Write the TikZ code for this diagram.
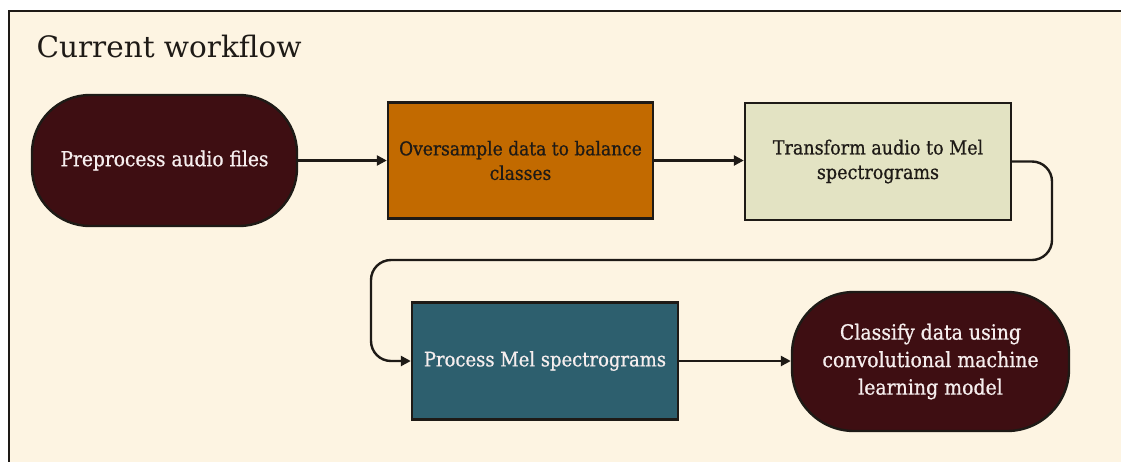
\documentclass[tikz,border=0pt]{standalone}
\usepackage{fontspec}
\setmainfont{DejaVu Serif}
\newfontfamily\boxfont[FakeBold=0.7]{DejaVu Serif Condensed}
\usetikzlibrary{arrows.meta}

\definecolor{paper}{HTML}{FDF4E2}
\definecolor{maroon}{HTML}{3E0E12}
\definecolor{amber}{HTML}{C26A00}
\definecolor{sage}{HTML}{E3E3C3}
\definecolor{teal}{HTML}{2D5F6E}
\definecolor{ink}{HTML}{1E1A16}
\definecolor{lighttext}{HTML}{F6EEEE}

\tikzset{
  box/.style={draw=ink, line width=2.4pt, align=center, inner sep=0pt,
    font=\boxfont\fontsize{19}{24.5}\selectfont},
  pill/.style={box, rounded corners=58pt, fill=maroon, text=lighttext},
  flow/.style={draw=ink, line width=2.4pt,
    -{Triangle[length=10pt,width=10pt]}},
}

\begin{document}
\begin{tikzpicture}[x=1pt,y=-1pt]
  \useasboundingbox (0,0) rectangle (1121,461);
  % panel
  \fill[paper] (9,11) rectangle (1125,465);
  \draw[ink, line width=2.2pt] (9,465) -- (9,11) -- (1125,11);

  \node[anchor=base west, font=\fontsize{29.5}{34}\selectfont, text=ink]
    (title) at (33,57) {Current workflow};

  % steps
  \node[pill, minimum width=265pt, minimum height=131pt,
        font=\boxfont\fontsize{20.7}{26}\selectfont]
    (pre) at (164.5,160.5) {Preprocess audio files};
  \node[box, fill=amber, text=ink, minimum width=265pt, minimum height=116pt]
    (over) at (520.5,160.5) {Oversample data to balance\\classes};
  \node[box, fill=sage, text=ink, minimum width=266pt, minimum height=117pt,
        font=\boxfont\fontsize{19.5}{24.5}\selectfont]
    (trans) at (878,161.5) {Transform audio to Mel\\spectrograms};
  \node[box, fill=teal, text=lighttext, minimum width=266pt, minimum height=117pt,
        font=\boxfont\fontsize{20}{25}\selectfont]
    (proc) at (545,361) {Process Mel spectrograms};
  \node[pill, rounded corners=62pt, minimum width=277pt, minimum height=139pt,
        font=\boxfont\fontsize{21}{27.5}\selectfont]
    (cls) at (930.5,361.5) {Classify data using\\convolutional machine\\learning model};

  % connectors
  \coordinate (turnR) at (1052,260);
  \coordinate (turnL) at (371,260);
  \draw[flow] (pre.east) -- (pre.east -| over.west);
  \draw[flow] (over.east) -- (over.east -| trans.west);
  \draw[flow, rounded corners=20pt] (trans.east) -| (turnR) -- (turnL) |- (proc.west);
  \draw[flow] (proc.east) -- (proc.east -| cls.west);
\end{tikzpicture}
\end{document}
